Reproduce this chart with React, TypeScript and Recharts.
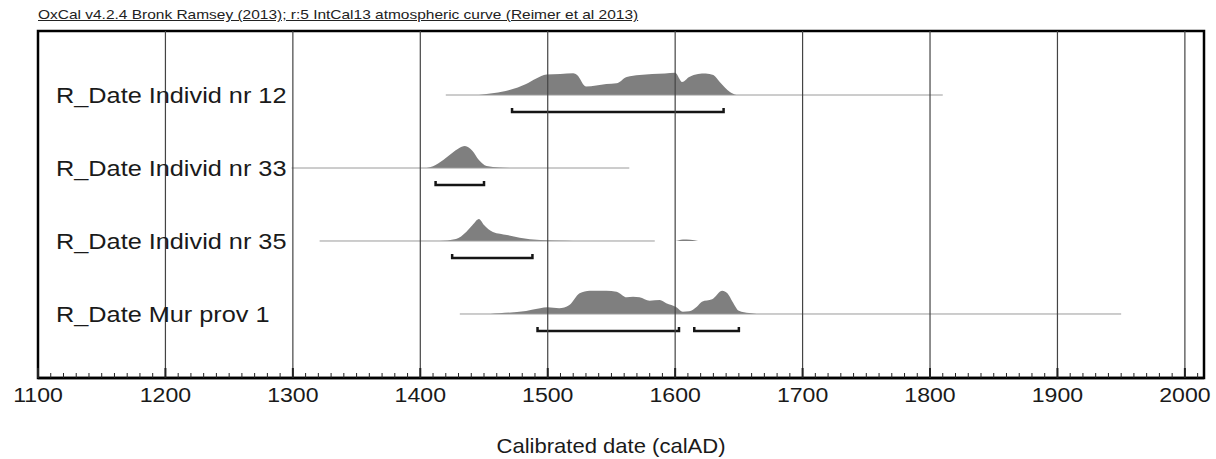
import React from 'react';
import { ComposedChart, XAxis, YAxis, Area, Line, ReferenceLine, ReferenceArea } from 'recharts';

const TITLE = 'OxCal v4.2.4 Bronk Ramsey (2013); r:5 IntCal13 atmospheric curve (Reimer et al 2013)';
const AXIS_TITLE = 'Calibrated date (calAD)';

const ROW_NAMES = ['R_Date Individ nr 12', 'R_Date Individ nr 33', 'R_Date Individ nr 35', 'R_Date Mur prov 1'];
const ROW_POS = [3, 2, 1, 0];

const MAJOR_TICKS = [1100, 1200, 1300, 1400, 1500, 1600, 1700, 1800, 1900, 2000];

// extent of the thin line (full calibrated range shown)
const RANGE_START = [1420, 1299, 1321, 1431];
const RANGE_END = [1810, 1564, 1584, 1950];

// 95.4% ranges (brackets)
const BRACKETS_12 = [[1472, 1638]];
const BRACKETS_33 = [[1412, 1450]];
const BRACKETS_35 = [[1425, 1488]];
const BRACKETS_MUR = [[1492, 1603], [1615, 1650]];

// relative probability (arbitrary units) by calendar year
const DENS_12 = [
  [1446, 0], [1458, 2], [1470, 5], [1483, 11], [1491, 16.5], [1499, 20.5], [1510, 21], [1520, 21.7],
  [1523, 20], [1530, 8.5], [1538, 9.5], [1546, 11], [1554, 11.7], [1562, 18], [1572, 20], [1582, 21],
  [1592, 21.5], [1600, 22.3], [1605.5, 13], [1611, 18], [1618, 21], [1624, 21.5], [1630, 20], [1635, 13],
  [1643, 3], [1648, 0],
];
const DENS_33 = [
  [1405, 0], [1410, 1.7], [1418, 8], [1425, 15], [1430, 19.5], [1435, 22], [1441, 17], [1446, 8],
  [1452, 2], [1462, 0.5], [1470, 0],
];
const DENS_35 = [
  [1415, 0], [1428, 2], [1436, 9], [1441, 16], [1446, 22], [1450, 16], [1457, 9], [1468, 6],
  [1478, 3.3], [1494, 1], [1515, 0.3], [1525, 0], [1600, 0], [1606, 1.5], [1612, 1.2], [1618, 0],
];
const DENS_MUR = [
  [1455, 0], [1462, 0.7], [1483, 3], [1494, 5.7], [1500, 6.7], [1509, 5.7], [1517, 9], [1525, 20.7],
  [1533, 23.3], [1546, 23.3], [1554, 22.3], [1562, 16.7], [1567, 17.3], [1572, 16.7], [1580, 13.3],
  [1588, 14], [1593, 10.7], [1601, 6.7], [1606, 2.3], [1611, 2.7], [1617, 7.3], [1621, 12.3],
  [1629, 14.7], [1637, 23.3], [1641, 20.7], [1645, 12.3], [1650, 3.3], [1658, 1], [1664, 0],
];

const DENSITIES = [DENS_12, DENS_33, DENS_35, DENS_MUR];
const BRACKETS = [BRACKETS_12, BRACKETS_33, BRACKETS_35, BRACKETS_MUR];

const W = 1216;
const H = 459;
const X_DOMAIN: [number, number] = [1100, 2015];
const Y_DOMAIN: [number, number] = [-0.877, 3.877];
const ROW_PX = 73;
const HSCALE = 1 / ROW_PX; // density unit -> row units
const BRACKET_OFF = 17 / ROW_PX;
const BRACKET_TIP = 4 / ROW_PX;
const FONT = "'Liberation Sans', Arial, sans-serif";

const ALL_TICKS: number[] = [];
MAJOR_TICKS.forEach((m) => {
  for (let k = 0; k < 10; k++) {
    const v = m + k * 10;
    if (v <= X_DOMAIN[1]) ALL_TICKS.push(v);
  }
});

const areaData = DENSITIES.map((d, i) =>
  d.map(([year, p]) => ({ x: year, band: [ROW_POS[i], ROW_POS[i] + p * HSCALE] }))
);

const bracketData: { key: string; pts: { x: number; y: number }[] }[] = [];
BRACKETS.forEach((list, i) => {
  const b = ROW_POS[i] - BRACKET_OFF;
  list.forEach(([a, c], j) => {
    bracketData.push({
      key: `br-${i}-${j}`,
      pts: [
        { x: a, y: b + BRACKET_TIP },
        { x: a, y: b },
        { x: c, y: b },
        { x: c, y: b + BRACKET_TIP },
      ],
    });
  });
});

const XTick = (props: any) => {
  const { x, y, payload } = props;
  const v = payload.value;
  const major = MAJOR_TICKS.includes(v);
  return (
    <g>
      <line x1={x} x2={x} y1={y} y2={y - (major ? 10 : 5)} stroke="#222" strokeWidth={major ? 2 : 1} />
      {major && (
        <text
          transform={`translate(${x},${y + 24}) scale(1.1,1)`}
          textAnchor="middle"
          fontFamily={FONT}
          fontSize={21}
          fill="#1a1a1a"
        >
          {String(v)}
        </text>
      )}
    </g>
  );
};

const YTick = (props: any) => {
  const { x, y, payload } = props;
  const idx = ROW_POS.indexOf(payload.value);
  if (idx < 0) return null;
  return (
    <text
      transform={`translate(${x + 18},${y + 8}) scale(1.15,1)`}
      textAnchor="start"
      fontFamily={FONT}
      fontSize={22}
      fill="#1a1a1a"
    >
      {ROW_NAMES[idx]}
    </text>
  );
};

const AxisTitle = (props: any) => {
  const vb = props.viewBox || { x: 38, y: 378, width: 1166, height: 81 };
  const cx = vb.x + vb.width / 2 - 10;
  return (
    <text
      transform={`translate(${cx},${vb.y + vb.height - 6}) scale(1.05,1)`}
      textAnchor="middle"
      fontFamily={FONT}
      fontSize={21}
      fill="#1a1a1a"
    >
      {AXIS_TITLE}
    </text>
  );
};

export default function App() {
  return (
    <div style={{ position: 'absolute', left: 0, top: 0, width: W, height: H, background: '#fff' }}>
      <div
        style={{
          position: 'absolute',
          left: 38,
          top: 8,
          fontFamily: FONT,
          fontSize: 13,
          lineHeight: '13px',
          color: '#222',
          textDecoration: 'underline',
          whiteSpace: 'nowrap',
          transform: 'scale(1.19,1)',
          transformOrigin: 'left top',
        }}
      >
        {TITLE}
      </div>
      <ComposedChart width={W} height={H} margin={{ top: 31, right: 12, left: 37, bottom: 0 }}>
        <XAxis
          dataKey="x"
          type="number"
          domain={X_DOMAIN}
          allowDataOverflow
          ticks={ALL_TICKS}
          interval={0}
          tickLine={false}
          tickSize={0}
          tickMargin={0}
          axisLine={{ stroke: '#000', strokeWidth: 2.5 }}
          height={81}
          tick={<XTick />}
          label={<AxisTitle />}
        />
        <YAxis
          type="number"
          domain={Y_DOMAIN}
          allowDataOverflow
          ticks={ROW_POS}
          interval={0}
          tickLine={false}
          tickSize={0}
          tickMargin={0}
          axisLine={false}
          width={1}
          tick={<YTick />}
        />
        {ROW_POS.map((pos, i) => (
          <ReferenceLine
            key={`rl-${i}`}
            segment={[{ x: RANGE_START[i], y: pos }, { x: RANGE_END[i], y: pos }]}
            stroke="#9a9a9a"
            strokeWidth={1}
          />
        ))}
        {areaData.map((d, i) => (
          <Area
            key={`ar-${i}`}
            data={d}
            dataKey="band"
            type="monotone"
            stroke="none"
            fill="#7f7f7f"
            fillOpacity={1}
            isAnimationActive={false}
            dot={false}
            activeDot={false}
          />
        ))}
        {bracketData.map((b) => (
          <Line
            key={b.key}
            data={b.pts}
            dataKey="y"
            type="linear"
            stroke="#151515"
            strokeWidth={2.5}
            dot={false}
            activeDot={false}
            isAnimationActive={false}
          />
        ))}
        {MAJOR_TICKS.slice(1).map((v) => (
          <ReferenceLine key={`g-${v}`} x={v} stroke="#444" strokeWidth={1.2} />
        ))}
        <ReferenceArea
          x1={X_DOMAIN[0]}
          x2={X_DOMAIN[1]}
          y1={Y_DOMAIN[0]}
          y2={Y_DOMAIN[1]}
          fill="none"
          fillOpacity={0}
          stroke="#000"
          strokeWidth={2.5}
        />
      </ComposedChart>
    </div>
  );
}
